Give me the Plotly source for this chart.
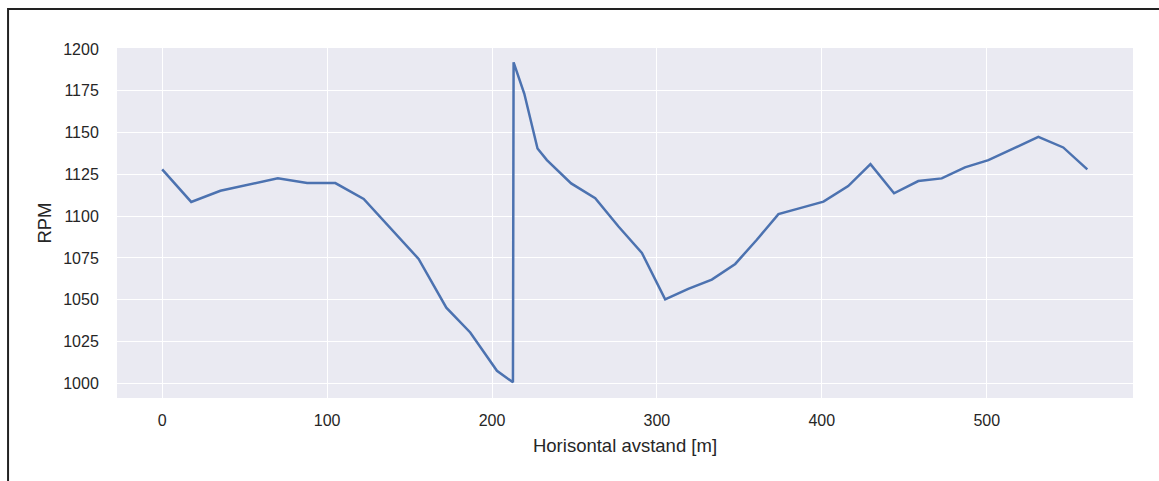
import plotly.graph_objects as go

distance_m = [0, 17.6, 35.3, 52.5, 70.1, 87.9, 105, 122.2, 155.5, 172.3, 186.8, 203, 212.7,
              213.1, 219.6, 227.6, 233.3, 248, 262.6, 276.7, 290.9, 305, 319, 333.3, 347.5,
              360.6, 373.7, 386.8, 401, 416, 429.5, 443.8, 458.5, 472.7, 486.8, 501, 516.1,
              531.3, 546.4, 561]
rpm = [1128.0, 1108.5, 1115.2, 1119.0, 1122.6, 1119.8, 1119.8, 1110.3, 1074.4, 1045.2, 1030.4,
       1007.5, 1000.6, 1192.0, 1173.2, 1140.5, 1133.5, 1119.6, 1110.7, 1093.8, 1078.0, 1050.2,
       1056.5, 1062.0, 1071.4, 1085.9, 1101.2, 1104.8, 1108.7, 1118.0, 1131.1, 1113.7, 1121.0,
       1122.6, 1129.2, 1133.5, 1140.5, 1147.4, 1141.1, 1128.0]

x_ticks = [0, 100, 200, 300, 400, 500]
y_ticks = [1000, 1025, 1050, 1075, 1100, 1125, 1150, 1175, 1200]

fig = go.Figure()
fig.add_trace(go.Scatter(x=distance_m, y=rpm, mode="lines",
                         line=dict(color="#4c72b0", width=2.5), showlegend=False))

W, H = 1159, 481
L, R, T, B = 116.5, 26, 47.5, 82.5
pw, ph = W - L - R, H - T - B

font_family = "Liberation Sans, Arial, sans-serif"
fig.update_layout(
    width=W, height=H,
    margin=dict(l=L, r=R, t=T, b=B),
    paper_bgcolor="white", plot_bgcolor="#eaeaf2",
    font=dict(family=font_family, size=16, color="#262626"),
    xaxis=dict(range=[-27.4, 588.7], tickvals=x_ticks, ticktext=[str(v) for v in x_ticks],
               showgrid=True, gridcolor="white", gridwidth=1.3, zeroline=False,
               showline=False, ticks="outside", ticklen=8, tickcolor="rgba(0,0,0,0)",
               tickfont=dict(size=16, color="#262626"),
               title=dict(text="Horisontal avstand [m]", font=dict(size=18.5, color="#262626"), standoff=10)),
    yaxis=dict(range=[991.2, 1200.6], tickvals=y_ticks, ticktext=[str(v) for v in y_ticks],
               showgrid=True, gridcolor="white", gridwidth=1.3, zeroline=False,
               showline=False, ticks="outside", ticklen=14, tickcolor="rgba(0,0,0,0)",
               tickfont=dict(size=16, color="#262626"),
               title=dict(text="RPM", font=dict(size=18.5, color="#262626"), standoff=6)),
    shapes=[dict(type="rect", xref="paper", yref="paper",
                 x0=(7.5 - L) / pw, x1=1.2,
                 y0=-0.5, y1=1 + (T - 8.5) / ph,
                 line=dict(color="#222222", width=2), fillcolor="rgba(0,0,0,0)", layer="below")],
)

fig.write_html("out.html", config={"displayModeBar": False},
               post_script="document.body.style.margin='0';")
